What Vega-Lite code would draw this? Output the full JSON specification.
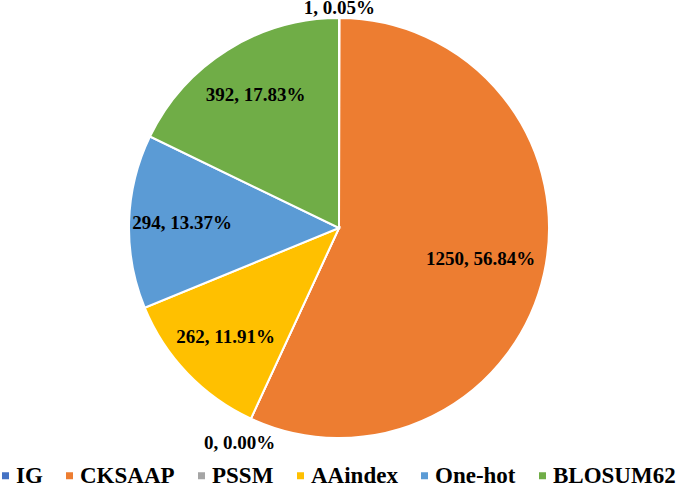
{
  "$schema": "https://vega.github.io/schema/vega-lite/v6.json",
  "width": 678,
  "height": 456,
  "padding": {"left": 0, "top": 0, "right": 7, "bottom": 30},
  "autosize": "none",
  "background": "white",
  "config": {"view": {"stroke": null}},
  "data": {"values": [
    {"idx": 1, "feature": "IG", "count": 1, "label": "1, 0.05%"},
    {"idx": 2, "feature": "CKSAAP", "count": 1250, "label": "1250, 56.84%"},
    {"idx": 3, "feature": "PSSM", "count": 0, "label": "0, 0.00%"},
    {"idx": 4, "feature": "AAindex", "count": 262, "label": "262, 11.91%"},
    {"idx": 5, "feature": "One-hot", "count": 294, "label": "294, 13.37%"},
    {"idx": 6, "feature": "BLOSUM62", "count": 392, "label": "392, 17.83%"}
  ]},
  "encoding": {
    "theta": {"field": "count", "type": "quantitative", "stack": true},
    "order": {"field": "idx", "type": "quantitative"}
  },
  "layer": [
    {
      "mark": {"type": "arc", "outerRadius": 210, "stroke": "white", "strokeWidth": 2},
      "encoding": {
        "color": {
          "field": "feature", "type": "nominal",
          "scale": {
            "domain": ["IG", "CKSAAP", "PSSM", "AAindex", "One-hot", "BLOSUM62"],
            "range": ["#4472C4", "#ED7D31", "#A5A5A5", "#FFC000", "#5B9BD5", "#70AD47"]
          },
          "legend": {
            "title": null,
            "orient": "none",
            "direction": "horizontal",
            "legendX": -6,
            "legendY": 464,
            "padding": 0,
            "symbolType": "square",
            "symbolSize": 49,
            "symbolStrokeWidth": 0,
            "symbolOffset": 0,
            "labelFont": "Liberation Serif",
            "labelFontSize": 23,
            "labelFontWeight": "bold",
            "labelColor": "#000000",
            "labelOffset": -1,
            "columnPadding": 15,
            "labelLimit": 200
          }
        }
      }
    },
    {
      "mark": {"type": "text", "radius": 145, "font": "Liberation Serif", "fontSize": 19, "fontWeight": "bold", "color": "black"},
      "encoding": {
        "text": {"field": "label"},
        "opacity": {"condition": {"test": "datum.feature == 'CKSAAP'", "value": 1}, "value": 0}
      }
    },
    {
      "mark": {"type": "text", "radius": 157, "font": "Liberation Serif", "fontSize": 19, "fontWeight": "bold", "color": "black"},
      "encoding": {
        "text": {"field": "label"},
        "opacity": {"condition": {"test": "indexof(['AAindex','One-hot','BLOSUM62'], datum.feature) >= 0", "value": 1}, "value": 0}
      }
    },
    {
      "mark": {"type": "text", "radius": 220, "font": "Liberation Serif", "fontSize": 19, "fontWeight": "bold", "color": "black"},
      "encoding": {
        "text": {"field": "label"},
        "opacity": {"condition": {"test": "datum.feature == 'IG'", "value": 1}, "value": 0}
      }
    },
    {
      "mark": {"type": "text", "radius": 237, "font": "Liberation Serif", "fontSize": 19, "fontWeight": "bold", "color": "black"},
      "encoding": {
        "text": {"field": "label"},
        "opacity": {"condition": {"test": "datum.feature == 'PSSM'", "value": 1}, "value": 0}
      }
    }
  ]
}
